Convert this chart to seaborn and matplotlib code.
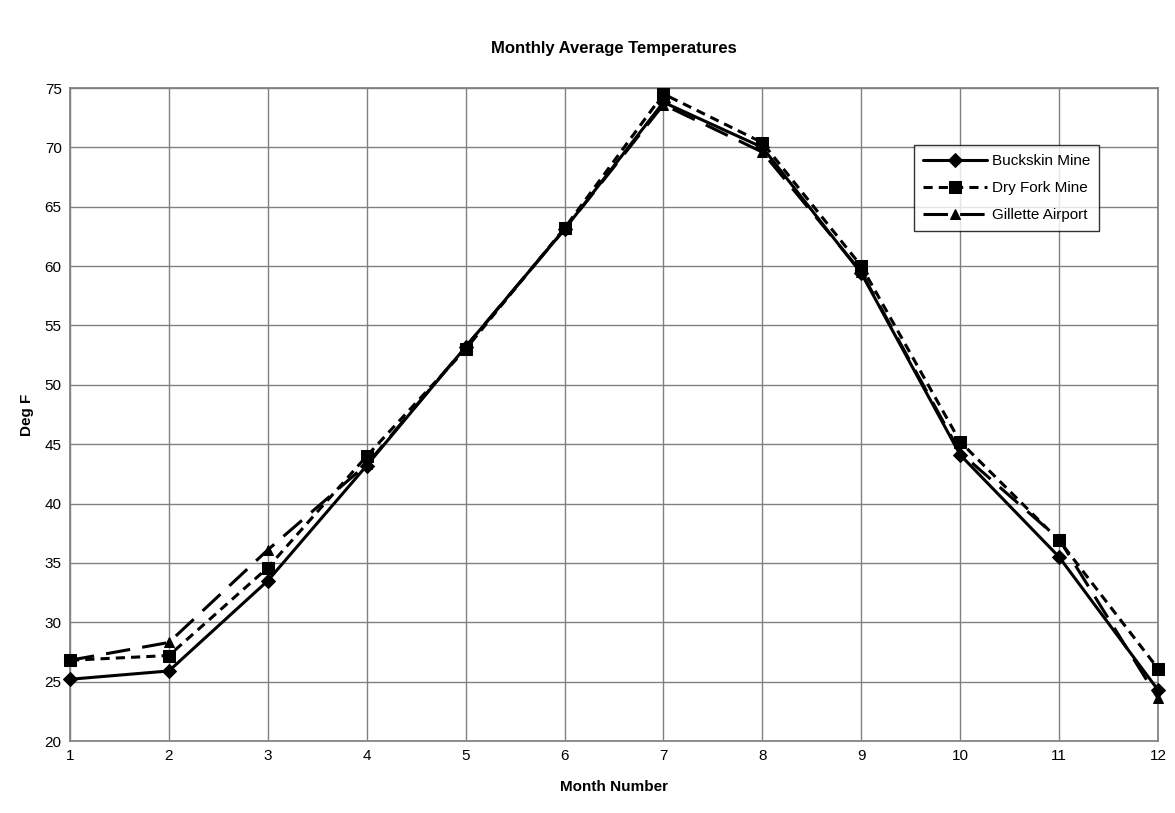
import numpy as np
import pandas as pd
import seaborn as sns
import matplotlib.pyplot as plt

# Monthly averages
months = list(range(1, 13))
buckskin = [25.2, 25.9, 33.5, 43.2, 53.2, 63.1, 73.8, 70.0, 59.4, 44.1, 35.5, 24.3]
dry_fork = [26.8, 27.2, 34.6, 44.0, 53.0, 63.2, 74.5, 70.4, 60.0, 45.2, 36.9, 26.1]
gillette = [26.8, 28.3, 36.1, 43.3, 53.2, 63.1, 73.6, 69.6, 59.5, 44.3, 37.0, 23.6]
station_names = ['Buckskin Mine', 'Dry Fork Mine', 'Gillette Airport']

df = pd.DataFrame({
    'Month': months * 3,
    'Temp': buckskin + dry_fork + gillette,
    'Station': np.repeat(station_names, len(months)),
})

sns.set_theme(style='white')
plt.rcParams['font.family'] = ['Liberation Sans', 'DejaVu Sans']
plt.rcParams['text.color'] = 'black'
plt.rcParams['axes.labelcolor'] = 'black'
plt.rcParams['xtick.color'] = 'black'
plt.rcParams['ytick.color'] = 'black'

fig = plt.figure(figsize=(11.75, 8.13), dpi=100)
ax = fig.add_axes([70 / 1175, 1 - 741 / 813, (1158 - 70) / 1175, (741 - 88) / 813])

styles = {
    'Buckskin Mine': dict(marker='D', linestyle='-', markersize=7),
    'Dry Fork Mine': dict(marker='s', linestyle=(0, (3, 2)), markersize=9),
    'Gillette Airport': dict(marker='^', linestyle=(0, (8, 4)), markersize=7),
}
for name in station_names:
    sns.lineplot(data=df[df['Station'] == name], x='Month', y='Temp', ax=ax,
                 color='black', linewidth=2.2, label=name, clip_on=False,
                 markeredgecolor='black', zorder=3, **styles[name])

ax.set_xlim(1, 12)
ax.set_ylim(20, 75)
ax.set_xticks(months)
ax.set_yticks(range(20, 80, 5))
ax.grid(True, color='#808080', linewidth=1)
for s in ax.spines.values():
    s.set_color('#808080')
ax.tick_params(labelsize=11, length=0, pad=6)

ax.set_title('Monthly Average Temperatures', fontsize=12, fontweight='bold', pad=25)
ax.set_xlabel('Month Number', fontsize=11, fontweight='bold', labelpad=12)
ax.set_ylabel('Deg F', fontsize=11, fontweight='bold', labelpad=8)

leg = ax.legend(loc='upper left', bbox_to_anchor=((914 - 70) / 1088, 1 - (145 - 88) / 653),
                frameon=True, fancybox=False, fontsize=11, handlelength=4.2,
                borderpad=0.6, labelspacing=0.85, handletextpad=0.3, borderaxespad=0)
leg.get_frame().set_edgecolor('black')
leg.get_frame().set_linewidth(1)

fig.savefig('out.png', dpi=100, facecolor='white')
